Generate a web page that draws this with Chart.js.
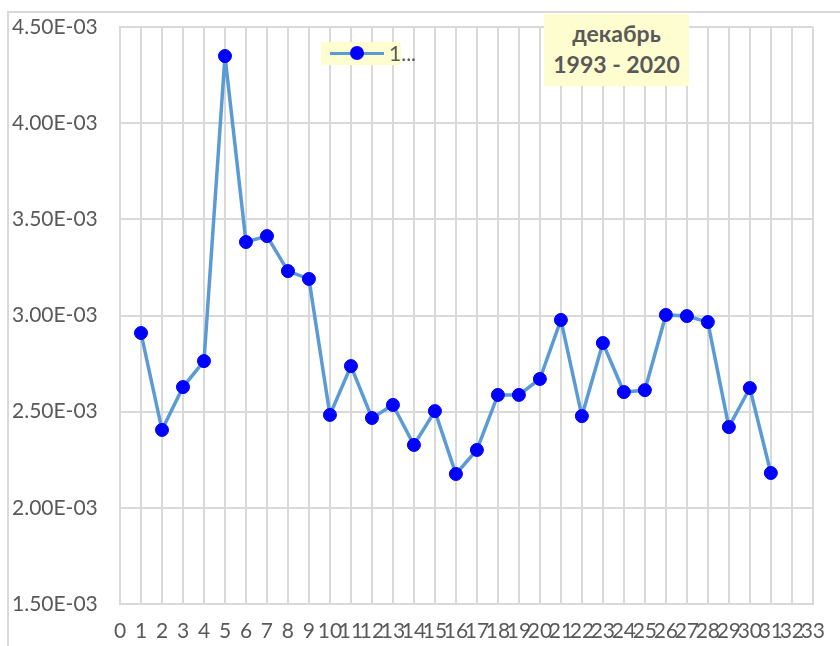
<!DOCTYPE html>
<html>
<head>
<meta charset="utf-8">
<script src="https://cdn.jsdelivr.net/npm/chart.js@4/dist/chart.umd.min.js"></script>
<style>
	html, body { margin: 0; padding: 0; background: #fff; overflow: hidden; }
	.wrap { position: relative; width: 840px; height: 646px; }
	.frame { position: absolute; left: 7px; top: 11px; width: 900px; height: 700px; border: 2px solid #d9d9d9; }
	canvas { position: absolute; left: 0; top: 0; }
	.note {
		position: absolute; left: 544px; top: 14px; width: 145px; height: 72px;
		background: #fefdd0; color: #595959; font: bold 23px Lato, "Open Sans", sans-serif;
		text-align: center; line-height: 31px; padding-top: 4px; box-sizing: border-box;
	}
	.legend {
		position: absolute; left: 321px; top: 42px; width: 80px; height: 23px;
		background: #fefdd0;
	}
	.legend .ln { position: absolute; left: 9px; top: 10px; width: 54px; height: 3px; background: #5b9bd5; }
	.legend .dot { position: absolute; left: 29px; top: 4px; width: 14px; height: 14px; border-radius: 50%; background: #0000ff; }
	.legend .txt { position: absolute; left: 68px; top: -2px; color: #595959; font: 21px Lato, "Open Sans", sans-serif; }
</style>
</head>
<body>
<div class="wrap">
	<div class="frame"></div>
	<canvas id="chart" width="840" height="646"></canvas>
	<div class="legend"><div class="ln"></div><div class="dot"></div><div class="txt">1...</div></div>
	<div class="note">декабрь<br>1993 - 2020</div>
</div>
<script>
// Day of month
const days = [1, 2, 3, 4, 5, 6, 7, 8, 9, 10, 11, 12, 13, 14, 15, 16, 17, 18, 19, 20, 21, 22, 23, 24, 25, 26, 27, 28, 29, 30, 31];

// Values
const values = [
	0.002909, 0.002405, 0.002628, 0.002763, 0.004349, 0.003382, 0.003413, 0.003231, 0.003190, 0.002483,
	0.002737, 0.002467, 0.002535, 0.002327, 0.002503, 0.002176, 0.002301, 0.002587, 0.002587, 0.002670,
	0.002977, 0.002477, 0.002857, 0.002602, 0.002612, 0.003003, 0.002997, 0.002966, 0.002420, 0.002623,
	0.002181
];

// Axis ranges
const xMin = 0, xMax = 33, xStep = 1;
const yMin = 0.0015, yMax = 0.0045, yStep = 0.0005;

// Excel style exponent, e.g. 4.50E-03
function sci(v) {
	const parts = v.toExponential(2).split('e');
	const exp = parseInt(parts[1], 10);
	const sign = exp < 0 ? '-' : '+';
	const abs = Math.abs(exp);
	return parts[0] + 'E' + sign + (abs < 10 ? '0' + abs : abs);
}

const gridColor = '#d9d9d9';
const labelColor = '#595959';
const font = { family: 'Lato, "Open Sans", sans-serif', size: 21 };

new Chart(document.getElementById('chart'), {
	type: 'line',
	data: {
		datasets: [{
			label: '1...',
			data: days.map((d, i) => ({ x: d, y: values[i] })),
			borderColor: '#5b9bd5',
			backgroundColor: '#0000ff',
			pointBackgroundColor: '#0000ff',
			pointBorderColor: '#0000ff',
			pointRadius: 6.5,
			pointBorderWidth: 1,
			borderWidth: 3.5,
			tension: 0
		}]
	},
	options: {
		responsive: false,
		animation: false,
		layout: { padding: { left: 12, top: 27, right: 18, bottom: 0 } },
		plugins: {
			legend: { display: false },
			tooltip: { enabled: false }
		},
		scales: {
			x: {
				type: 'linear',
				min: xMin,
				max: xMax,
				ticks: {
					stepSize: xStep,
					autoSkip: false,
					maxRotation: 0,
					padding: 15,
					color: labelColor,
					font: font
				},
				grid: { color: gridColor, lineWidth: 2, drawTicks: false },
				border: { color: gridColor, width: 2 },
				afterFit: (scale) => { scale.height = 42; }
			},
			y: {
				min: yMin,
				max: yMax,
				ticks: {
					stepSize: yStep,
					crossAlign: 'far',
					color: labelColor,
					font: font,
					callback: (v) => sci(v)
				},
				grid: { color: gridColor, lineWidth: 2, drawTicks: false },
				border: { color: gridColor, width: 2 },
				afterFit: (scale) => { scale.width = 108; }
			}
		}
	}
});
</script>
</body>
</html>
